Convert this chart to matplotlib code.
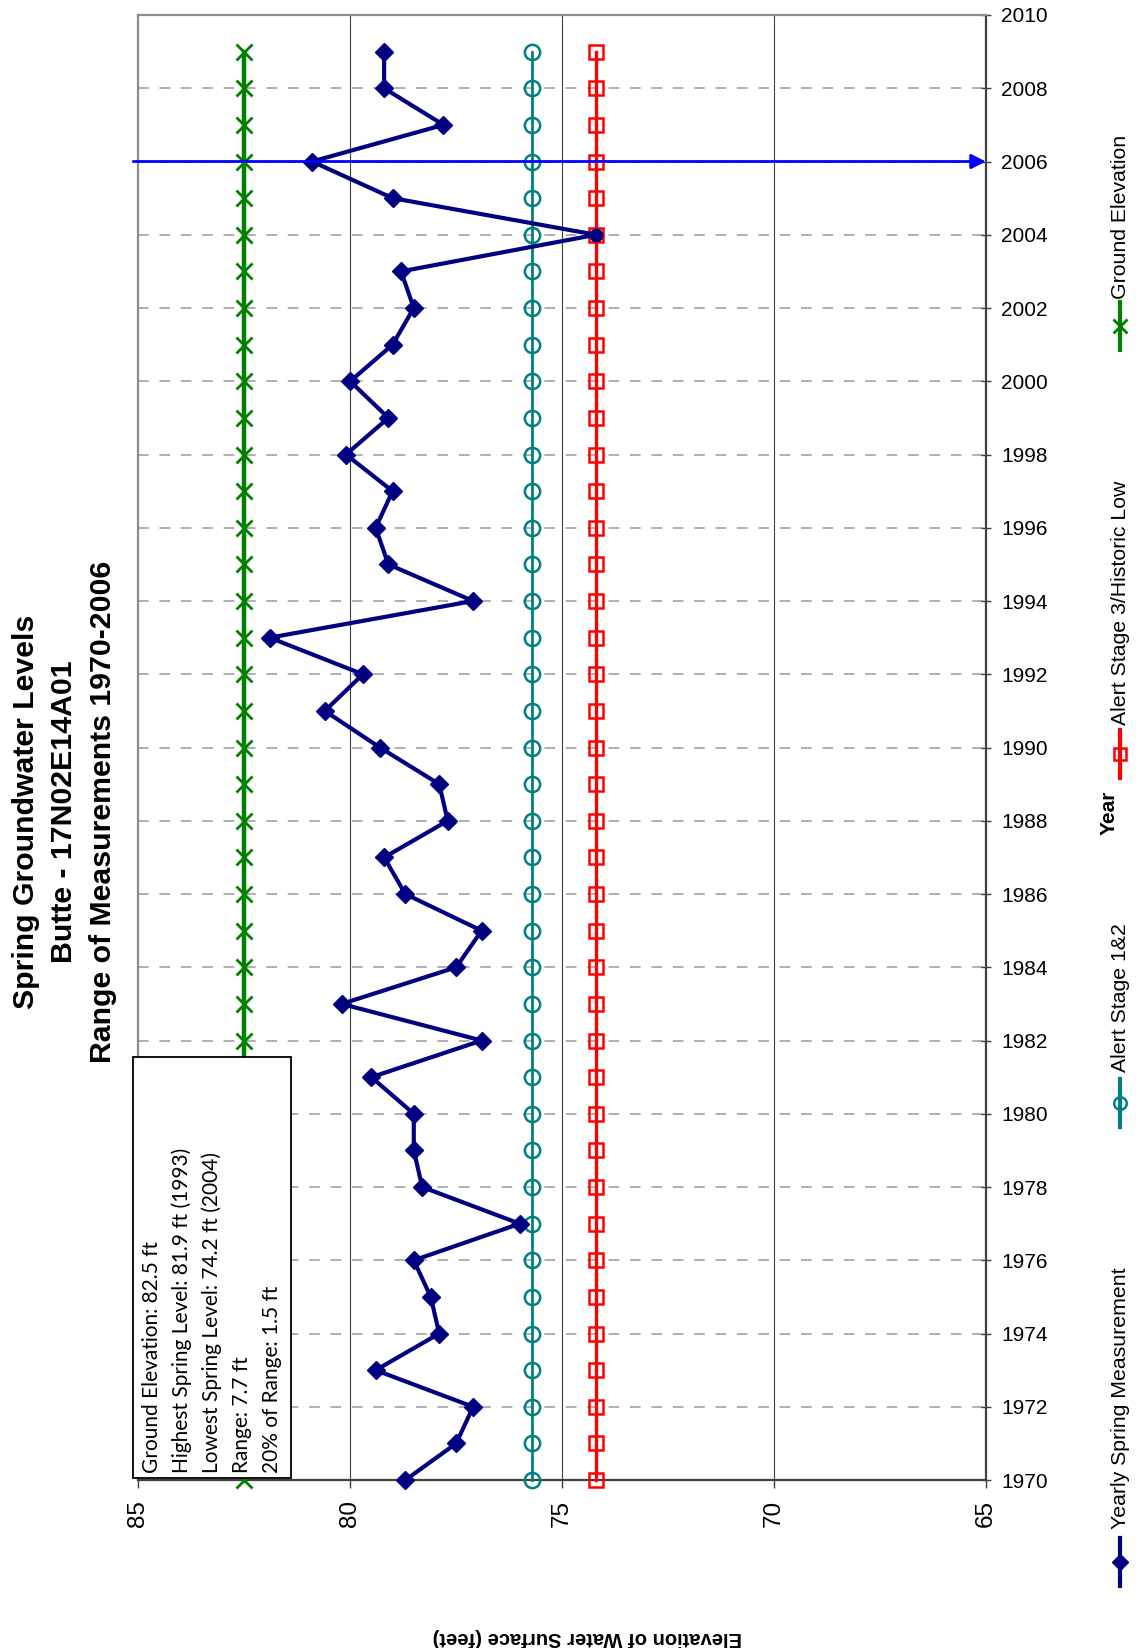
import matplotlib
matplotlib.use("Agg")
import matplotlib.pyplot as plt
from matplotlib.lines import Line2D
from matplotlib.patches import Rectangle

plt.rcParams['font.family'] = ['Liberation Sans', 'DejaVu Sans']

# spring groundwater measurements, well 17N02E14A01
years = list(range(1970, 2010))
spring_level = [78.7, 77.5, 77.1, 79.4, 77.9, 78.1, 78.5, 76.0, 78.3, 78.5,
                78.5, 79.5, 76.9, 80.2, 77.5, 76.9, 78.7, 79.2, 77.7, 77.9,
                79.3, 80.6, 79.7, 81.9, 77.1, 79.1, 79.4, 79.0, 80.1, 79.1,
                80.0, 79.0, 78.5, 78.8, 74.2, 79.0, 80.9, 77.8, 79.2, 79.2]
ground_elevation = 82.5
alert_stage_12 = 75.7
alert_stage_3 = 74.2
current_year = 2006

ground_line = [ground_elevation] * len(years)
alert_12_line = [alert_stage_12] * len(years)
alert_3_line = [alert_stage_3] * len(years)

year_ticks = list(range(1970, 2011, 2))
elev_ticks = [85, 80, 75, 70, 65]

W, H = 1143, 1648
fig = plt.figure(figsize=(W / 100, H / 100), dpi=100)
ax = fig.add_axes([0.121, 0.1019, 0.8626 - 0.121, 0.9909 - 0.1019])


def fpx(x, y):
    # figure pixel position (from top-left) -> figure fraction
    return x / W, 1 - y / H


hi = max(spring_level)
lo = min(spring_level)
hi_year = years[spring_level.index(hi)]
lo_year = years[spring_level.index(lo)]
rng = hi - lo

# series
ax.plot(ground_line, years, color='#008000', lw=3.2, marker='x', ms=12, mew=2,
        clip_on=False, zorder=4)
ax.plot(alert_3_line, years, color='#ff0000', lw=2.4, marker='s', ms=10, mew=1.8,
        mfc='none', clip_on=False, zorder=4)
ax.plot(alert_12_line, years, color='#008080', lw=2, marker='o', ms=11, mew=1.8,
        mfc='none', clip_on=False, zorder=4)
keep = [i for i, y in enumerate(years) if y != lo_year]
ax.plot(spring_level, years, color='#000080', lw=3, marker='D', ms=9.5,
        markevery=keep, clip_on=False, zorder=5)
ax.plot([lo], [lo_year], color='#000080', marker='o', ms=9, ls='none', zorder=6)

# current year marker
ax.annotate('', xy=(65, current_year), xytext=(85.12, current_year),
            arrowprops=dict(arrowstyle='-|>', color='#0000ff', lw=2,
                            mutation_scale=22, shrinkA=0, shrinkB=0),
            annotation_clip=False, zorder=7)

ax.set_xlim(85, 65)
ax.set_ylim(1970, 2010)
ax.set_xticks(elev_ticks)
ax.set_yticks(year_ticks)
ax.yaxis.tick_right()
ax.tick_params(axis='x', direction='out', length=5.8, width=1, pad=8.6,
               labelsize=17.5, labelrotation=90, color='#404040')
ax.tick_params(axis='y', direction='inout', length=7.2, width=1, pad=7.5,
               labelsize=15, color='#404040')

for e in elev_ticks[1:-1]:
    ax.axvline(e, color='#404040', lw=0.8, zorder=1)
for y in year_ticks[1:-1]:
    ax.axhline(y, color='#9a9a9a', lw=1.1, ls=(0, (7, 7)), zorder=1)

ax.spines['top'].set_color('#8c8c8c')
ax.spines['left'].set_color('#8c8c8c')
ax.spines['right'].set_color('#404040')
ax.spines['bottom'].set_color('#404040')
for s in ax.spines.values():
    s.set_linewidth(1.6)

# summary box
box = Rectangle((85.12, 1970.05), 81.4 - 85.12, 1981.56 - 1970.05,
                facecolor='white', edgecolor='black', lw=1.3,
                clip_on=False, zorder=8)
ax.add_patch(box)
summary = [
    f"Ground Elevation: {ground_elevation:.1f} ft",
    f"Highest Spring Level: {hi:.1f} ft ({hi_year})",
    f"Lowest Spring Level: {lo:.1f} ft ({lo_year})",
    f"Range: {rng:.1f} ft",
    f"20% of Range: {0.2 * rng:.1f} ft",
]
for i, line in enumerate(summary):
    ax.text(84.68 - i * 0.71, 1970.19, line, rotation=90, ha='center',
            va='bottom', fontsize=15, family=['Lato', 'DejaVu Sans'], zorder=9)

# title
title = ["Spring Groundwater Levels", "Butte - 17N02E14A01",
         "Range of Measurements 1970-2006"]
for i, t in enumerate(title):
    fig.text(*fpx(26 + i * 38.5, 812), t, rotation=90, ha='center', va='center',
             fontsize=21.8, fontweight='bold')

fig.text(*fpx(587, 1638), "Elevation of Water Surface (feet)", rotation=180,
         ha='center', va='center', fontsize=14.5, fontweight='bold')
fig.text(*fpx(1109, 813), "Year", rotation=90, ha='center', va='center',
         fontsize=15, fontweight='bold')

# legend
legend = [
    ("Yearly Spring Measurement", dict(color='#000080', marker='D', ms=8), 1562, 1529),
    ("Alert Stage 1&2", dict(color='#008080', marker='o', ms=9, mfc='none', mew=1.8), 1103, 1072),
    ("Alert Stage 3/Historic Low", dict(color='#ff0000', marker='s', ms=9, mfc='none', mew=1.8), 754, 725),
    ("Ground Elevation", dict(color='#008000', marker='x', ms=10, mew=2), 326, 299),
]
for label, style, my, ty in legend:
    x0, y0 = fpx(1120, my + 24)
    x1, y1 = fpx(1120, my - 24)
    fig.add_artist(Line2D([x0, x1], [y0, y1], lw=3, transform=fig.transFigure,
                          markevery=[], **style))
    fig.add_artist(Line2D([x0], [(y0 + y1) / 2], lw=0, transform=fig.transFigure,
                          **style))
    fig.text(*fpx(1120, ty), label, rotation=90, ha='center', va='bottom',
             fontsize=15.3)

fig.savefig("out.png", dpi=100)
